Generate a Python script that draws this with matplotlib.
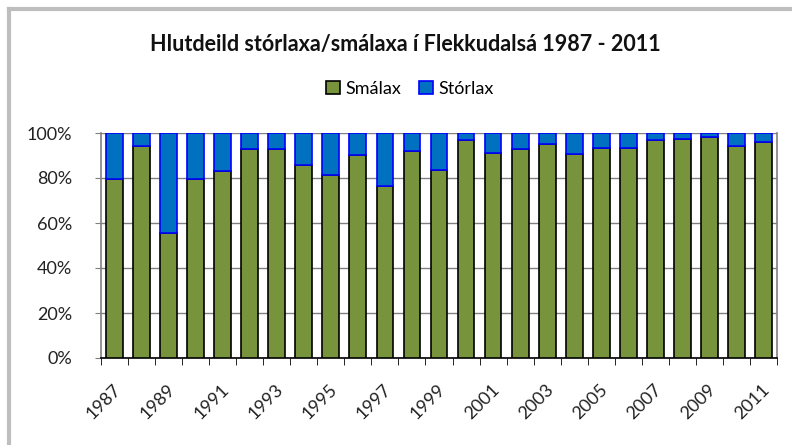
import matplotlib
matplotlib.use("Agg")
import matplotlib.pyplot as plt
import matplotlib.transforms as mtrans
import numpy as np
from matplotlib.lines import Line2D

years = list(range(1987, 2012))
smalax = [79.4, 94.2, 55.7, 79.7, 83.0, 93.0, 93.0, 85.8, 81.2, 90.1, 76.4, 91.9, 83.6,
          96.9, 91.3, 92.7, 95.1, 90.5, 93.5, 93.5, 96.9, 97.5, 98.4, 94.2, 96.0]
storlax = [100 - v for v in smalax]
title = "Hlutdeild stórlaxa/smálaxa í Flekkudalsá 1987 - 2011"
series_names = ["Smálax", "Stórlax"]

plt.rcParams['font.family'] = ['Lato', 'DejaVu Sans']

W, H = 792, 445
fig = plt.figure(figsize=(W / 100, H / 100), dpi=100)
# outer chart border (top and left visible)
fig.lines.append(Line2D([9 / W, 1.0], [1 - 9 / H, 1 - 9 / H], transform=fig.transFigure,
                        color='#BEBEBE', linewidth=3, solid_capstyle='projecting'))
fig.lines.append(Line2D([9 / W, 9 / W], [1 - 9 / H, 0.0], transform=fig.transFigure,
                        color='#BEBEBE', linewidth=3, solid_capstyle='projecting'))

ax = fig.add_axes([101 / W, 1 - 358 / H, 676 / W, 225 / H])
x = np.arange(len(years))
green = '#77933C'
blue = '#0070C0'
ax.bar(x, smalax, width=0.62, color=green, edgecolor='black', linewidth=1.2, label=series_names[0], zorder=3)
ax.bar(x, storlax, bottom=smalax, width=0.62, color=blue, edgecolor='#0000FF', linewidth=1.2,
       label=series_names[1], zorder=3)

ax.set_xlim(-0.5, len(years) - 0.5)
ax.set_ylim(0, 100)
ax.set_yticks(range(0, 101, 20))
ax.set_yticklabels([f"{v}%" for v in range(0, 101, 20)], fontsize=13, color='#222222')
ax.yaxis.grid(True, color='#808080', linewidth=1.0, zorder=0)
ax.set_axisbelow(True)

ax.set_xticks(x[::2])
ax.set_xticklabels([str(y) for y in years[::2]], fontsize=13, color='#222222')
ax.set_xticks(np.arange(-0.5, len(years), 1), minor=True)
ax.tick_params(axis='x', which='major', length=0, pad=21)
ax.tick_params(axis='x', which='minor', length=5, color='black', direction='out')
ax.tick_params(axis='y', length=4, color='#808080', pad=17)
offset = mtrans.ScaledTranslation(3.5 / 100, 0, fig.dpi_scale_trans)
for lab in ax.get_xticklabels():
    lab.set_rotation(45)
    lab.set_rotation_mode('anchor')
    lab.set_ha('right')
    lab.set_va('center')
    lab.set_transform(lab.get_transform() + offset)

for s in ['left', 'right']:
    ax.spines[s].set_color('#808080')
    ax.spines[s].set_linewidth(1.2)
ax.spines['top'].set_visible(False)
ax.spines['bottom'].set_color('black')
ax.spines['bottom'].set_linewidth(1.2)

fig.text(405 / W, 1 - 44 / H, title, fontsize=15.5, fontweight='bold',
         ha='center', va='center', color='#111111')

leg = fig.legend(loc='center', bbox_to_anchor=(410 / W, 1 - 89 / H), ncol=2, frameon=False,
                 fontsize=13, handlelength=0.75, handleheight=0.75, handletextpad=0.3,
                 columnspacing=1.0)

fig.savefig('out.png', dpi=100)
